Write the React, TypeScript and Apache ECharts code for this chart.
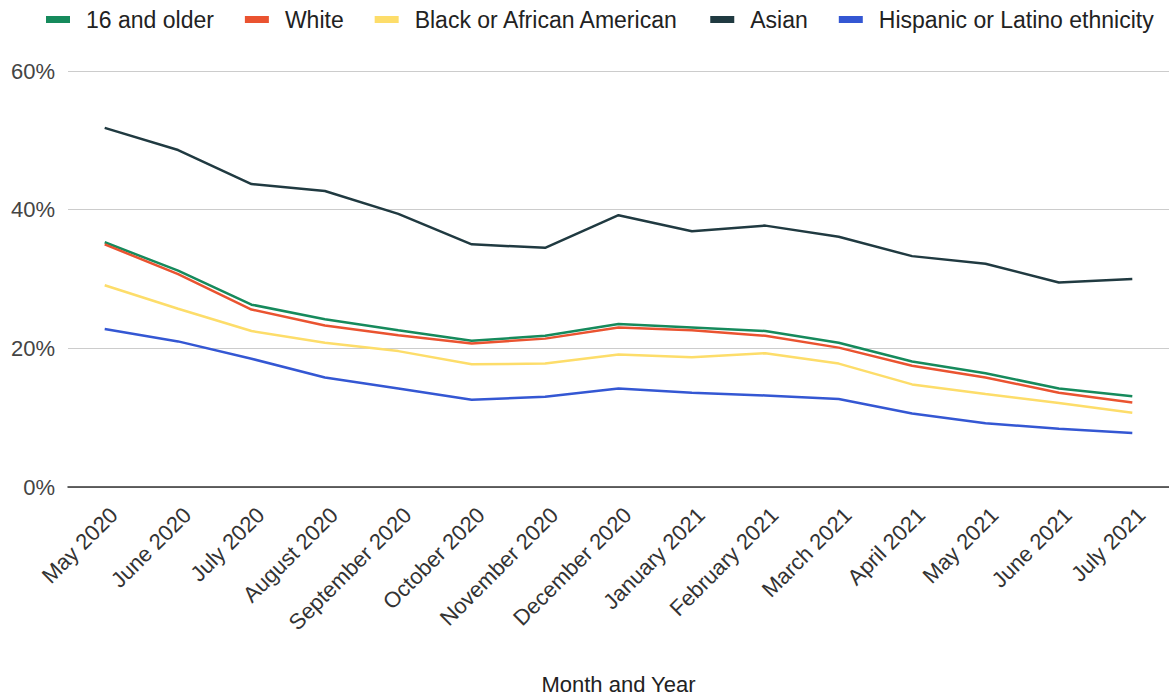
import React, { useEffect, useRef } from "react";
import * as echarts from "echarts";

const months = [
  "May 2020", "June 2020", "July 2020", "August 2020", "September 2020",
  "October 2020", "November 2020", "December 2020", "January 2021",
  "February 2021", "March 2021", "April 2021", "May 2021", "June 2021", "July 2021",
];

const olderThan16 = [35.3, 31.2, 26.3, 24.2, 22.6, 21.1, 21.8, 23.5, 23.0, 22.5, 20.8, 18.1, 16.4, 14.2, 13.1];
const white = [35.0, 30.7, 25.6, 23.3, 21.9, 20.7, 21.4, 23.0, 22.6, 21.8, 20.1, 17.5, 15.8, 13.6, 12.2];
const black = [29.1, 25.7, 22.5, 20.8, 19.6, 17.7, 17.8, 19.1, 18.7, 19.3, 17.8, 14.8, 13.4, 12.1, 10.7];
const asian = [51.8, 48.6, 43.7, 42.7, 39.4, 35.0, 34.5, 39.2, 36.9, 37.7, 36.1, 33.3, 32.2, 29.5, 30.0];
const hispanic = [22.8, 21.0, 18.5, 15.8, 14.2, 12.6, 13.0, 14.2, 13.6, 13.2, 12.7, 10.6, 9.2, 8.4, 7.8];

const seriesNames = ["16 and older", "White", "Black or African American", "Asian", "Hispanic or Latino ethnicity"];
const seriesData = [olderThan16, white, black, asian, hispanic];
const colors = ["#168a5c", "#ea5330", "#fddd6a", "#203a41", "#3457d3"];

const yTicks = { min: 0, max: 60, interval: 20 };
const xTitle = "Month and Year";

const FONT = "Liberation Sans, Arial, sans-serif";

export default function App() {
  const ref = useRef<HTMLDivElement>(null);
  useEffect(() => {
    if (!ref.current) return;
    const chart = echarts.init(ref.current, undefined, { renderer: "svg" });
    chart.setOption({
      animation: false,
      color: colors,
      textStyle: { fontFamily: FONT },
      legend: {
        left: 41,
        top: 3,
        itemWidth: 24,
        itemHeight: 7,
        itemGap: 31,
        icon: "rect",
        data: seriesNames,
        textStyle: { fontSize: 23, color: "#222", fontFamily: FONT, padding: [0, 0, 0, 11] },
      },
      grid: { left: 68, right: -9, top: 71, bottom: 205, containLabel: false },
      xAxis: {
        type: "category",
        data: months,
        boundaryGap: true,
        name: xTitle,
        nameLocation: "middle",
        nameGap: 186,
        nameTextStyle: { fontSize: 22, color: "#222", fontFamily: FONT },
        axisLine: { show: true, lineStyle: { color: "#333", width: 1.5 } },
        axisTick: { show: false },
        axisLabel: {
          rotate: 45,
          margin: 15,
          verticalAlign: "top",
          padding: [2, 0, 0, 0],
          fontSize: 22,
          color: "#333",
          fontFamily: FONT,
          interval: 0,
        },
        splitLine: { show: false },
      },
      yAxis: {
        type: "value",
        min: yTicks.min,
        max: yTicks.max,
        interval: yTicks.interval,
        axisLine: { show: false },
        axisTick: { show: false },
        axisLabel: { formatter: "{value}%", fontSize: 22, color: "#444", margin: 13, fontFamily: FONT },
        splitLine: { show: true, lineStyle: { color: "#cccccc", width: 1 } },
      },
      series: seriesNames.map((name, i) => ({
        name,
        type: "line",
        data: seriesData[i],
        symbol: "none",
        lineStyle: { width: 2.5, color: colors[i] },
        itemStyle: { color: colors[i] },
      })),
    });
    return () => chart.dispose();
  }, []);
  return (
    <div
      ref={ref}
      style={{ position: "fixed", left: 0, top: 0, width: 1169, height: 700, background: "#fff" }}
    />
  );
}
